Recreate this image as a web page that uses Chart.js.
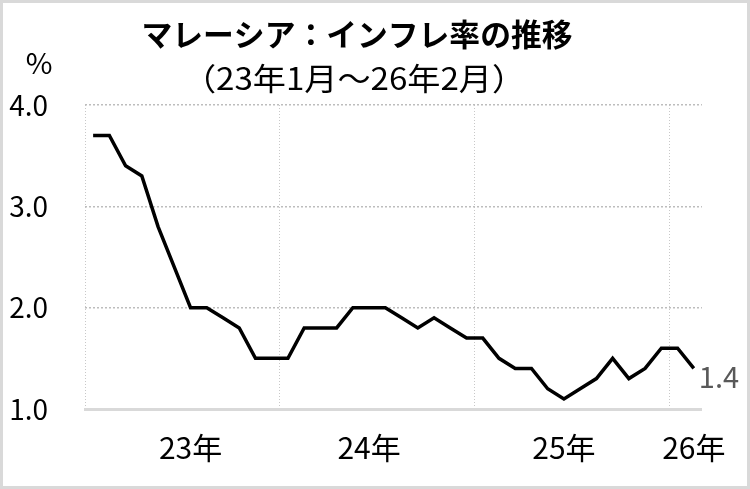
<!DOCTYPE html>
<html lang="ja">
<head>
<meta charset="utf-8">
<title>マレーシア：インフレ率の推移</title>
<script src="https://cdn.jsdelivr.net/npm/chart.js@4.4.1/dist/chart.umd.min.js"></script>
<style>
    html, body { margin: 0; padding: 0; background: #fff; }
    #frame {
        width: 750px;
        height: 489px;
        box-sizing: border-box;
        border: 3px solid #d9d9d9;
        background: #fff;
    }
    #chart-box { position: relative; width: 744px; height: 483px; }
</style>
</head>
<body>
<div id="frame">
    <div id="chart-box"><canvas id="inflationChart"></canvas></div>
</div>
<script>
// 1. Data (monthly, Jan 2023 - Feb 2026)
const months = [
    '2023-01', '2023-02', '2023-03', '2023-04', '2023-05', '2023-06',
    '2023-07', '2023-08', '2023-09', '2023-10', '2023-11', '2023-12',
    '2024-01', '2024-02', '2024-03', '2024-04', '2024-05', '2024-06',
    '2024-07', '2024-08', '2024-09', '2024-10', '2024-11', '2024-12',
    '2025-01', '2025-02', '2025-03', '2025-04', '2025-05', '2025-06',
    '2025-07', '2025-08', '2025-09', '2025-10', '2025-11', '2025-12',
    '2026-01', '2026-02'
];
const inflation = [
    3.7, 3.7, 3.4, 3.3, 2.8, 2.4, 2.0, 2.0, 1.9, 1.8, 1.5, 1.5,
    1.5, 1.8, 1.8, 1.8, 2.0, 2.0, 2.0, 1.9, 1.8, 1.9, 1.8, 1.7,
    1.7, 1.5, 1.4, 1.4, 1.2, 1.1, 1.2, 1.3, 1.5, 1.3, 1.4, 1.6,
    1.6, 1.4
];

// year labels and the month they sit under
const yearLabels = ['23年', '24年', '25年', '26年'];
const yearLabelMonths = ['2023-07', '2024-06', '2025-06', '2026-02'];
// year boundaries (grid lines drawn left of these months)
const yearStarts = ['2023-01', '2024-01', '2025-01', '2026-01'];

const yTicks = [1, 2, 3, 4];

const titleText = 'マレーシア：インフレ率の推移';
const subtitleText = '（23年1月～26年2月）';
const unitText = '%';

const jpFont = "'Noto Sans CJK JP', 'Noto Sans', sans-serif";

// 2. Title, subtitle, unit and end label
const textPlugin = {
    id: 'textPlugin',
    afterDraw(chart) {
        const ctx = chart.ctx;
        ctx.save();
        ctx.fillStyle = '#000';
        ctx.textAlign = 'center';
        ctx.textBaseline = 'middle';

        drawFitted(ctx, titleText, 'bold 31px ' + jpFont, 354, 31, 431);
        drawFitted(ctx, subtitleText, '31px ' + jpFont, 351, 75, 342);

        ctx.font = '29px ' + jpFont;
        ctx.fillText(unitText, 36, 60);

        // last value label
        const meta = chart.getDatasetMeta(0);
        const last = meta.data[meta.data.length - 1];
        ctx.font = '29px ' + jpFont;
        ctx.fillStyle = '#595959';
        ctx.textAlign = 'left';
        ctx.fillText(inflation[inflation.length - 1].toFixed(1), last.x + 5, last.y + 9);
        ctx.restore();
    }
};

function drawFitted(ctx, text, font, cx, cy, width) {
    ctx.font = font;
    const w = ctx.measureText(text).width;
    ctx.save();
    ctx.translate(cx, cy);
    ctx.scale(width / w, 1);
    ctx.fillText(text, 0, 0);
    ctx.restore();
}

// 3. Render
const ctx = document.getElementById('inflationChart');
new Chart(ctx, {
    type: 'line',
    data: {
        labels: months,
        datasets: [{
            data: inflation,
            borderColor: '#000',
            borderWidth: 3.5,
            pointRadius: 0,
            tension: 0,
            fill: false
        }]
    },
    options: {
        responsive: true,
        maintainAspectRatio: false,
        animation: false,
        layout: { padding: { top: 102, right: 41, left: 0, bottom: 0 } },
        plugins: {
            legend: { display: false },
            title: { display: false },
            tooltip: { enabled: false }
        },
        scales: {
            x: {
                offset: true,
                grid: {
                    offset: true,
                    drawTicks: false,
                    lineWidth: 1,
                    color: (c) => (c.tick && yearStarts.includes(months[c.index])) ? '#c8c8c8' : 'rgba(0,0,0,0)'
                },
                border: { display: true, color: '#d9d9d9', width: 3, dash: [1, 2] },
                ticks: {
                    autoSkip: false,
                    maxRotation: 0,
                    padding: 21,
                    color: '#000',
                    font: { family: jpFont, size: 30 },
                    callback: (v, i) => {
                        const k = yearLabelMonths.indexOf(months[i]);
                        return k >= 0 ? yearLabels[k] : '';
                    }
                },
                afterFit: (s) => { s.height = 77; }
            },
            y: {
                min: yTicks[0],
                max: yTicks[yTicks.length - 1],
                afterBuildTicks: (s) => { s.ticks = yTicks.map(v => ({ value: v })); },
                grid: {
                    drawTicks: false,
                    lineWidth: 1.5,
                    color: (c) => c.tick && c.tick.value > yTicks[0] ? '#bdbdbd' : 'rgba(0,0,0,0)'
                },
                border: { display: false, dash: [2, 2] },
                ticks: {
                    padding: 37,
                    color: '#000',
                    font: { family: jpFont, size: 28 },
                    callback: (v) => v.toFixed(1)
                },
                afterFit: (s) => { s.width = 82; }
            }
        }
    },
    plugins: [textPlugin]
});
</script>
</body>
</html>
